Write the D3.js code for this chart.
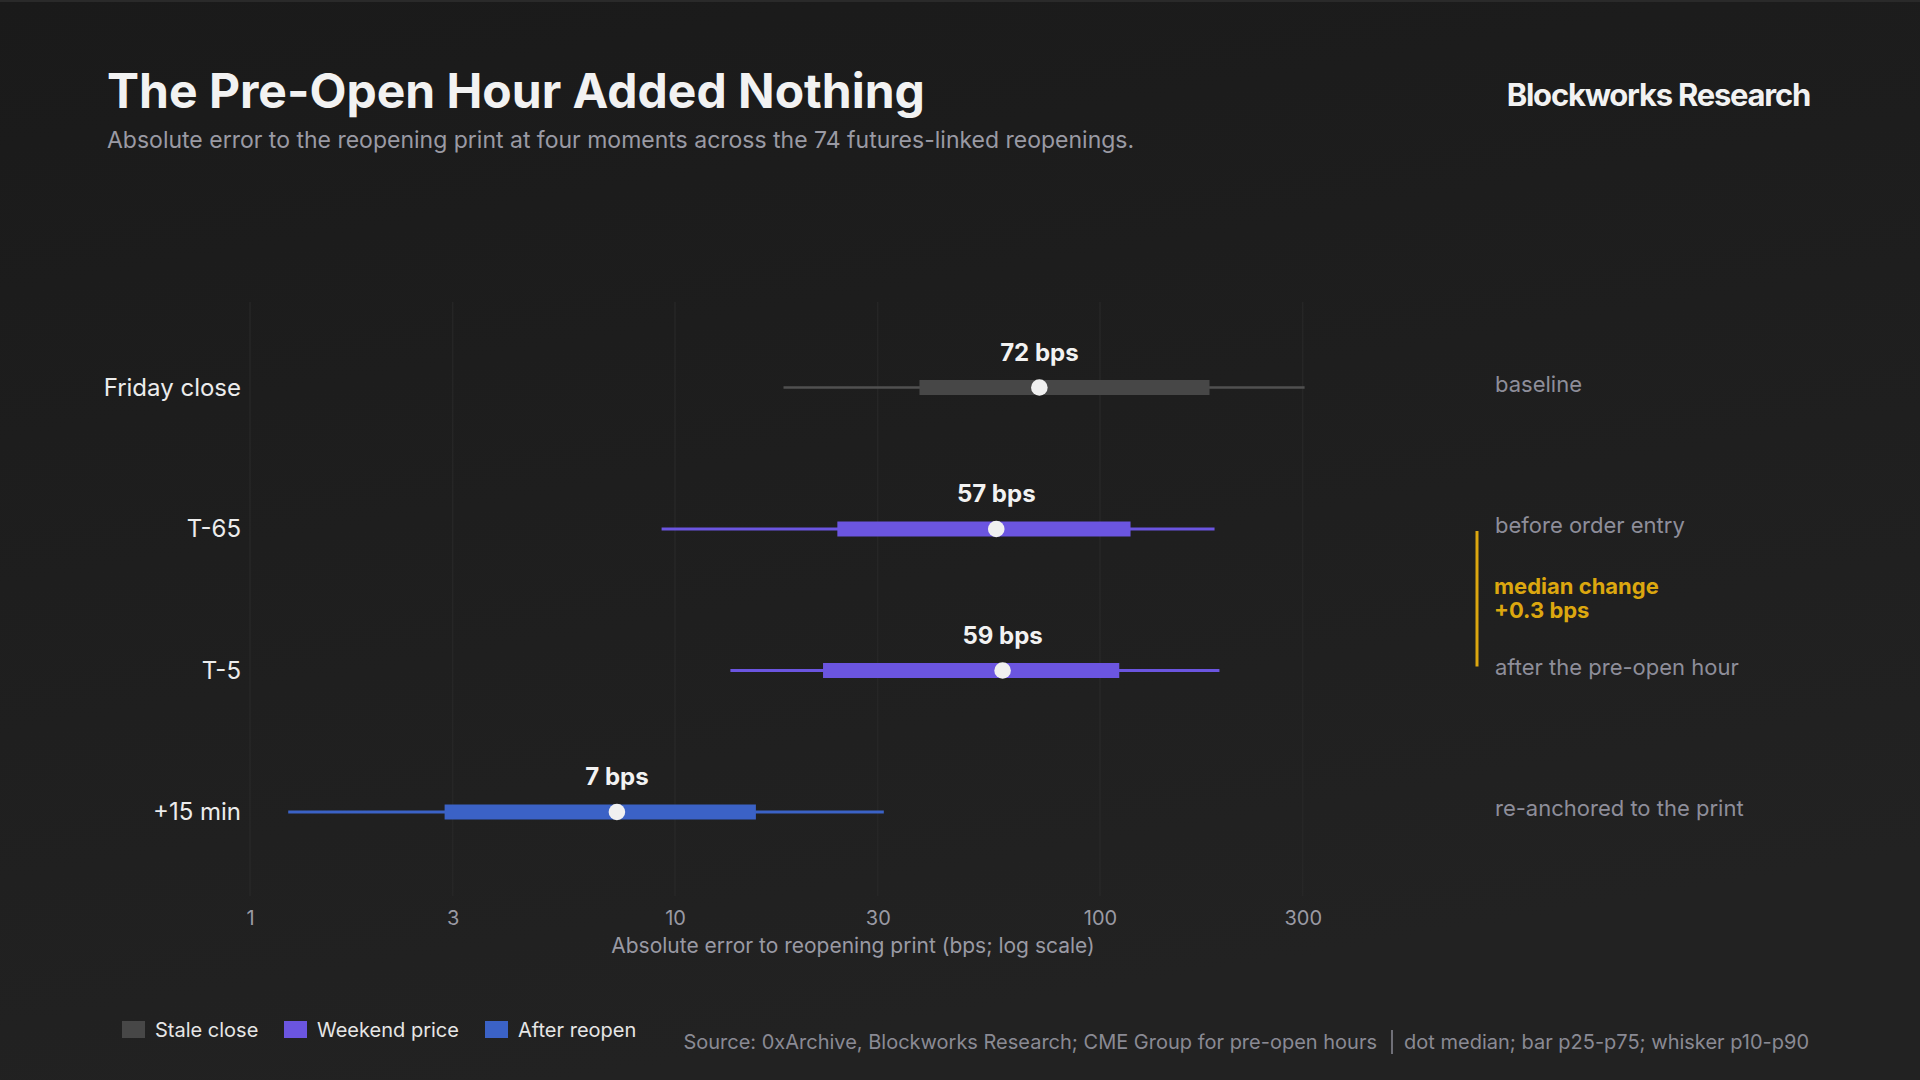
<!DOCTYPE html>
<html>
<head>
<meta charset="utf-8">
<script src="https://cdn.jsdelivr.net/npm/d3@7"></script>
<style>
  html, body { margin: 0; padding: 0; background: #1b1b1b; }
  svg { display: block; font-family: Inter, "Noto Sans", sans-serif; }
</style>
</head>
<body>
<svg id="chart" width="1920" height="1080"></svg>
<script>
// values (bps, log scale)
const moments = ["Friday close", "T-65", "T-5", "+15 min"];
const p10 = [18, 9.3, 13.5, 1.23];
const p25 = [37.6, 24.1, 22.3, 2.87];
const medians = [72, 57, 59, 7.3];
const p75 = [181, 118, 111, 15.5];
const p90 = [303, 186, 191, 31];
const groups = ["Stale close", "Weekend price", "Weekend price", "After reopen"];
const notes = ["baseline", "before order entry", "after the pre-open hour", "re-anchored to the print"];
const xTicks = [1, 3, 10, 30, 100, 300];

const legendKeys = ["Stale close", "Weekend price", "After reopen"];
const barColors = ["#474747", "#6b55e0", "#3b62c6"];
const whiskerColors = ["#505050", "#6b55e0", "#3b62c6"];

const svg = d3.select("#chart");

// background with a slight lift towards the bottom
const defs = svg.append("defs");
const grad = defs.append("linearGradient").attr("id", "bg")
    .attr("x1", 0).attr("y1", 0).attr("x2", 0.3).attr("y2", 1);
grad.append("stop").attr("offset", "0%").attr("stop-color", "#1a1a1a");
grad.append("stop").attr("offset", "100%").attr("stop-color", "#222222");
svg.append("rect").attr("width", 1920).attr("height", 1080).attr("fill", "url(#bg)");
svg.append("rect").attr("width", 1920).attr("height", 2).attr("fill", "#2a2a2a");

// header
svg.append("text").attr("x", 107).attr("y", 108)
    .attr("fill", "#f2f2f2").attr("font-size", 48).attr("font-weight", 700)
    .text("The Pre-Open Hour Added Nothing");
svg.append("text").attr("x", 107).attr("y", 148)
    .attr("fill", "#9a9aa4").attr("font-size", 23)
    .text("Absolute error to the reopening print at four moments across the 74 futures-linked reopenings.");
svg.append("text").attr("x", 1810).attr("y", 106).attr("text-anchor", "end")
    .attr("fill", "#f2f2f2").attr("font-size", 31).attr("font-weight", 700)
    .attr("letter-spacing", "-0.04em")
    .text("Blockworks Research");

// scales
const x = d3.scaleLog().domain([1, 1000]).range([250, 1525]);
const y = d3.scalePoint().domain(moments).range([387.5, 812]);
const color = d3.scaleOrdinal().domain(legendKeys).range(barColors);
const wcolor = d3.scaleOrdinal().domain(legendKeys).range(whiskerColors);

// grid + x axis
const g = svg.append("g");
g.selectAll("line.grid").data(xTicks).join("line")
    .attr("class", "grid")
    .attr("x1", d => x(d)).attr("x2", d => x(d))
    .attr("y1", 302).attr("y2", 896)
    .attr("stroke", "#2a2a2a").attr("stroke-width", 1);

const xAxis = svg.append("g").attr("transform", "translate(0,910)")
    .call(d3.axisBottom(x).tickValues(xTicks).tickFormat(d3.format("d")).tickSize(0));
xAxis.select(".domain").remove();
xAxis.selectAll("text").attr("fill", "#9a9aa4").attr("font-size", 20)
    .attr("font-family", "Inter, sans-serif").attr("dy", "0.75em").attr("y", 0);

svg.append("text").attr("x", 853).attr("y", 953)
    .attr("text-anchor", "middle").attr("fill", "#9a9aa4").attr("font-size", 21)
    .text("Absolute error to reopening print (bps; log scale)");

// row labels
svg.selectAll("text.row").data(moments).join("text")
    .attr("class", "row")
    .attr("x", 241).attr("y", d => y(d))
    .attr("dy", "0.35em").attr("text-anchor", "end")
    .attr("fill", "#ececec").attr("font-size", 24)
    .text(d => d);

// ranges
const rows = moments.map((m, i) => ({
    m, p10: p10[i], p25: p25[i], med: medians[i], p75: p75[i], p90: p90[i], grp: groups[i], note: notes[i]
}));

const rowG = svg.selectAll("g.rowg").data(rows).join("g")
    .attr("class", "rowg")
    .attr("transform", d => `translate(0,${y(d.m)})`);

rowG.append("line")
    .attr("x1", d => x(d.p10)).attr("x2", d => x(d.p90))
    .attr("stroke", d => wcolor(d.grp))
    .attr("stroke-width", d => d.grp === "Stale close" ? 2.5 : 3);

rowG.append("rect")
    .attr("x", d => x(d.p25)).attr("y", -7.5)
    .attr("width", d => x(d.p75) - x(d.p25)).attr("height", 15)
    .attr("fill", d => color(d.grp));

rowG.append("circle")
    .attr("cx", d => x(d.med)).attr("r", 8.3)
    .attr("fill", "#f0f0f0");

rowG.append("text")
    .attr("x", d => x(d.med)).attr("y", -27)
    .attr("text-anchor", "middle")
    .attr("fill", "#f2f2f2").attr("font-size", 24).attr("font-weight", 700)
    .text(d => Math.round(d.med) + " bps");

rowG.append("text")
    .attr("x", 1495).attr("dy", "0.2em")
    .attr("fill", "#8e8e9a").attr("font-size", 22)
    .text(d => d.note);

// median change callout between T-65 and T-5
svg.append("line")
    .attr("x1", 1477).attr("x2", 1477)
    .attr("y1", y("T-65") + 2).attr("y2", y("T-5") - 4)
    .attr("stroke", "#dca70f").attr("stroke-width", 3);
const callout = svg.append("text").attr("x", 1494).attr("y", 594)
    .attr("fill", "#dca70f").attr("font-size", 22).attr("font-weight", 700);
callout.append("tspan").attr("x", 1494).text("median change");
callout.append("tspan").attr("x", 1494).attr("dy", 24).text("+0.3 bps");

// legend
const legendX = [122, 284, 485];
const lg = svg.selectAll("g.legend").data(legendKeys).join("g")
    .attr("class", "legend")
    .attr("transform", (d, i) => `translate(${legendX[i]},1021)`);
lg.append("rect").attr("width", 23).attr("height", 17).attr("fill", d => color(d));
lg.append("text").attr("x", 33).attr("y", 9).attr("dy", "0.35em")
    .attr("fill", "#e6e6e6").attr("font-size", 20)
    .text(d => d);

// source line
svg.append("text").attr("x", 1377).attr("y", 1049).attr("text-anchor", "end")
    .attr("fill", "#8a8a94").attr("font-size", 20)
    .text("Source: 0xArchive, Blockworks Research; CME Group for pre-open hours");
svg.append("line").attr("x1", 1392).attr("x2", 1392).attr("y1", 1030).attr("y2", 1054)
    .attr("stroke", "#8a8a94").attr("stroke-width", 1.5);
svg.append("text").attr("x", 1809).attr("y", 1049).attr("text-anchor", "end")
    .attr("fill", "#8a8a94").attr("font-size", 20)
    .text("dot median; bar p25-p75; whisker p10-p90");
</script>
</body>
</html>
